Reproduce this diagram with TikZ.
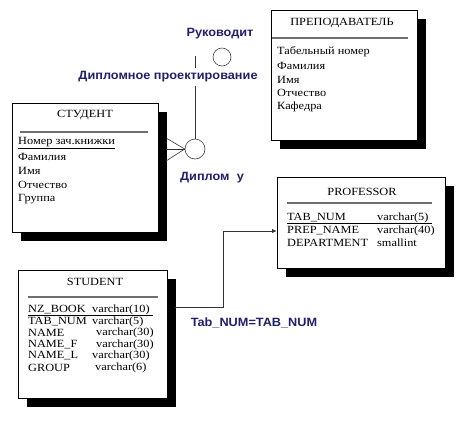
\documentclass[tikz,border=0pt]{standalone}
\usepackage{fontspec}
\setmainfont{Liberation Serif}[FakeStretch=1.12]
\newfontfamily\relfont{Liberation Sans}[FakeStretch=1.06]
\usepackage{tikz}
\usetikzlibrary{arrows.meta,shadows}
\definecolor{relblue}{RGB}{32,32,110}
\definecolor{rulegrey}{RGB}{110,110,110}
\tikzset{
  erbox/.style  ={rectangle, draw=black, fill=white, line width=0.6pt, inner sep=0pt,
                  drop shadow={shadow xshift=8.5pt, shadow yshift=-9pt, fill=black, opacity=1}},
  ertitle/.style={inner sep=0pt, font=\fontsize{11}{13}\selectfont},
  erattr/.style ={anchor=west, inner sep=0pt, font=\fontsize{11}{13}\selectfont},
  errule/.style ={line width=1.2pt, rulegrey},
  erkey/.style  ={line width=0.6pt, black},
  erlink/.style ={line width=0.6pt, black!80},
  erfk/.style   ={erlink, -{Latex[length=4.5pt, width=4pt]}},
  ercirc/.style ={circle, draw=black!75, fill=white, line width=0.6pt, inner sep=0pt},
  erlabel/.style={fill=white, inner xsep=1pt, inner ysep=4pt, text=relblue,
                  font=\relfont\bfseries\fontsize{12}{14}\selectfont},
}

\begin{document}
\begin{tikzpicture}[x=1pt, y=-1pt]
  \useasboundingbox (0,0) rectangle (465,424);

  \node[erbox, minimum width=146pt, minimum height=130pt] (prep) at (344,75) {};
  \node[erbox, minimum width=146pt, minimum height=129pt] (stud) at (85,167.5) {};
  \node[erbox, minimum width=168pt, minimum height=91pt]  (prof) at (361,222.5) {};
  \node[erbox, minimum width=149pt, minimum height=128pt] (student) at (92.5,334) {};

  \node[ertitle] (prepT) at (342,23) {ПРЕПОДАВАТЕЛЬ};
  \draw[errule] (272,38) -- (408,38);
  \node[erattr] (prepA1) at (277,52)  {Табельный номер};
  \node[erattr] (prepA2) at (277,66)  {Фамилия};
  \node[erattr] (prepA3) at (277,80)  {Имя};
  \node[erattr] (prepA4) at (277,93)  {Отчество};
  \node[erattr] (prepA5) at (277,107) {Кафедра};

  \node[ertitle] (studT) at (85,115) {СТУДЕНТ};
  \draw[errule] (20,132) -- (148,132);
  \node[erattr] (studA1) at (18,143) {\underline{Номер зач.книжки}};
  \node[erattr] (studA2) at (18,157) {Фамилия};
  \node[erattr] (studA3) at (18,171) {Имя};
  \node[erattr] (studA4) at (18,185) {Отчество};
  \node[erattr] (studA5) at (18,199) {Группа};

  \node[ertitle] (profT) at (362,192) {PROFESSOR};
  \draw[errule] (287,203) -- (432,203);
  \node[erattr] (profR1) at (287,218) {TAB\_NUM};
  \node[erattr] (profR2) at (287,231) {PREP\_NAME};
  \node[erattr] (profR3) at (287,243) {DEPARTMENT};
  \node[erattr] (profD1) at (377,218) {varchar(5)};
  \node[erattr] (profD2) at (377,231) {varchar(40)};
  \node[erattr] (profD3) at (377,243) {smallint};
  \draw[erkey] (287,223.5) -- (432,223.5);

  \node[ertitle] (studentT) at (95,282) {STUDENT};
  \draw[errule] (28,297) -- (158,297);
  \node[erattr] (studentR1) at (28,310)   {NZ\_BOOK};
  \node[erattr] (studentR2) at (28,321.5) {TAB\_NUM};
  \node[erattr] (studentR3) at (28,333)   {NAME};
  \node[erattr] (studentR4) at (28,344.5) {NAME\_F};
  \node[erattr] (studentR5) at (28,356)   {NAME\_L};
  \node[erattr] (studentR6) at (28,367.5) {GROUP};
  \node[erattr] (studentD1) at (92,310)   {varchar(10)};
  \node[erattr] (studentD2) at (92,321.5) {varchar(5)};
  \node[erattr] (studentD3) at (96,333)   {varchar(30)};
  \node[erattr] (studentD4) at (96,344.5) {varchar(30)};
  \node[erattr] (studentD5) at (92,356)   {varchar(30)};
  \node[erattr] (studentD6) at (95,367.5) {varchar(6)};
  \draw[erkey] (28,315.5) -- (153,315.5);

  \node[ercirc, minimum size=18pt] (rcTop) at (222,57) {};
  \node[ercirc, minimum size=20pt] (rcBot) at (195,149) {};
  \coordinate (relTop) at (195,56);
  \coordinate (cf1) at (166,138);
  \coordinate (cf2) at (166,149);
  \coordinate (cf3) at (166,161);
  \draw[erlink] (relTop) -- (rcBot.north);
  \draw[erlink] (rcBot.west) -- (cf1);
  \draw[erlink] (rcBot.west) -- (cf2);
  \draw[erlink] (rcBot.west) -- (cf3);

  \node[erlabel] (lblLead) at (220,34)  {Руководит};
  \node[erlabel] (lblRel)  at (168,77)  {Дипломное проектирование};
  \node[erlabel] (lblDip)  at (212,178) {Диплом\hspace{0.6em}у};

  \coordinate (fkstart) at (175,307);
  \draw[erfk] (fkstart) -- ++(48,0) |- (prof.west |- profR2);
  \node[erlabel] (lblJoin) at (254,323) {Tab\_NUM=TAB\_NUM};
\end{tikzpicture}
\end{document}
